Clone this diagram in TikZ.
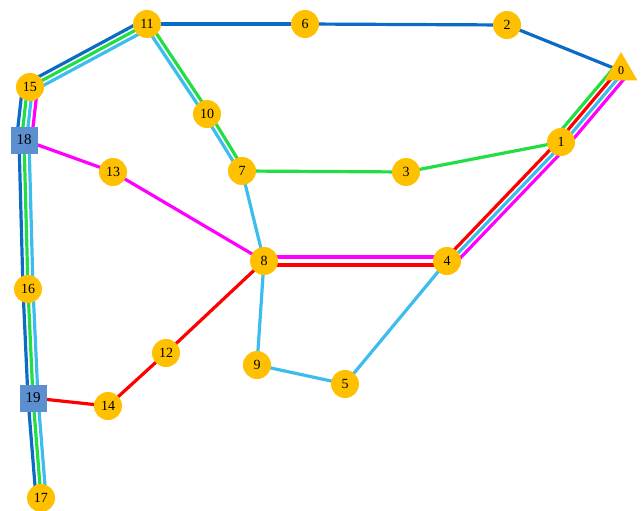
\documentclass[tikz,border=0pt]{standalone}
\usepackage{fontspec}
\setmainfont{Liberation Serif}
\usetikzlibrary{calc, shapes.geometric, backgrounds}
\definecolor{cnode}{HTML}{FFC000}
\definecolor{csquare}{HTML}{5B8FD0}
\definecolor{cdblue}{HTML}{0A6CC4}
\definecolor{cgreen}{HTML}{22DD44}
\definecolor{clblue}{HTML}{3DBDEE}
\definecolor{cred}{HTML}{FF0000}
\definecolor{cpink}{HTML}{FF00FF}
\tikzset{
  stop/.style={circle, fill=cnode, minimum size=28pt, inner sep=0pt, font=\fontsize{14}{14}\selectfont},
  hub/.style={rectangle, fill=csquare, minimum size=27pt, inner sep=0pt, font=\fontsize{15}{15}\selectfont},
  depot/.style={regular polygon, regular polygon sides=3, fill=cnode, minimum size=38pt, inner sep=0pt, font=\fontsize{12}{12}\selectfont},
  route/.style={draw=#1, line width=3.2pt},
}
% one lane of a route, shifted sideways by #3
\newcommand{\lane}[4]{\draw[route=#4] ($(#1)!#3!90:(#2)$) -- ($(#2)!#3!-90:(#1)$);}

\begin{document}
\begin{tikzpicture}[x=1pt, y=-1pt]
  \useasboundingbox (0,0) rectangle (643,511);
  % stops
  \node[depot] (n0) at (621,71) {0};
  \node[stop] (n1) at (561,142) {1};
  \node[stop] (n2) at (507,25) {2};
  \node[stop] (n3) at (406,172) {3};
  \node[stop] (n4) at (447,261) {4};
  \node[stop] (n5) at (345,384) {5};
  \node[stop] (n6) at (305,24) {6};
  \node[stop] (n7) at (242,171) {7};
  \node[stop] (n8) at (264,261) {8};
  \node[stop] (n9) at (257,365) {9};
  \node[stop] (n10) at (207,114) {10};
  \node[stop] (n11) at (147,24) {11};
  \node[stop] (n12) at (166,353) {12};
  \node[stop] (n13) at (113,172) {13};
  \node[stop] (n14) at (108,406) {14};
  \node[stop] (n15) at (30,87) {15};
  \node[stop] (n16) at (28,289) {16};
  \node[stop] (n17) at (41,498) {17};
  \node[hub] (n18) at (24,140) {18};
  \node[hub] (n19) at (33,398) {19};
  % routes
  \begin{pgfonlayer}{background}
    \foreach \a/\b/\o in {n0/n2/0pt, n2/n6/0pt, n6/n11/0pt, n11/n15/-5pt, n15/n18/-7.5pt,
        n18/n16/-5pt, n16/n19/-5pt, n19/n17/-5pt}
      \lane{\a}{\b}{\o}{cdblue};
    \foreach \a/\b/\o in {n0/n1/-7.5pt, n1/n3/0pt, n3/n7/0pt, n7/n10/-2.5pt, n10/n11/-2.5pt,
        n11/n15/0pt, n15/n18/-2.5pt, n18/n16/0pt, n16/n19/0pt, n19/n17/0pt}
      \lane{\a}{\b}{\o}{cgreen};
    \foreach \a/\b/\o in {n0/n1/2.5pt, n1/n4/2.5pt, n4/n5/0pt, n5/n9/0pt, n9/n8/0pt, n8/n7/0pt,
        n7/n10/2.5pt, n10/n11/2.5pt, n11/n15/5pt, n15/n18/2.5pt, n18/n16/5pt,
        n16/n19/5pt, n19/n17/5pt}
      \lane{\a}{\b}{\o}{clblue};
    \foreach \a/\b/\o in {n0/n1/-2.5pt, n1/n4/-2.5pt, n4/n8/4pt, n8/n12/0pt, n12/n14/0pt, n14/n19/0pt}
      \lane{\a}{\b}{\o}{cred};
    \foreach \a/\b/\o in {n0/n1/7.5pt, n1/n4/7.5pt, n4/n8/-4pt, n8/n13/0pt, n13/n18/0pt, n15/n18/7.5pt}
      \lane{\a}{\b}{\o}{cpink};
  \end{pgfonlayer}
\end{tikzpicture}
\end{document}
